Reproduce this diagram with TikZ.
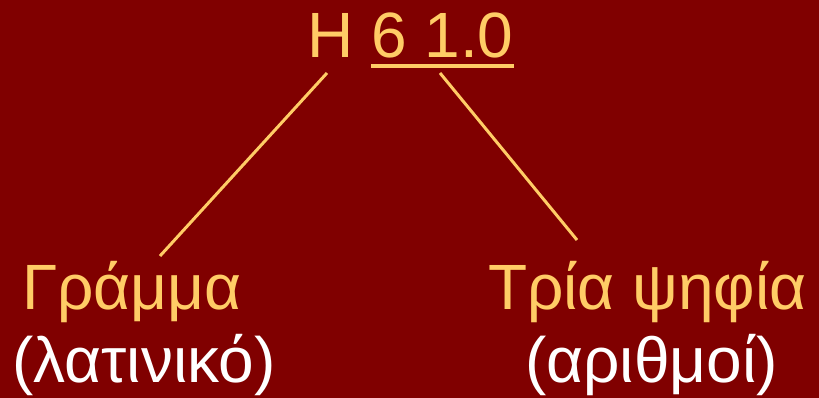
\documentclass[tikz,border=0pt]{standalone}
\usepackage{fontspec}
\setmainfont{Liberation Sans}
\definecolor{bgred}{HTML}{800000}
\definecolor{gold}{HTML}{FFCC66}
\begin{document}
\begin{tikzpicture}[x=1pt,y=1pt,
  big/.style={font=\fontsize{64}{76}\selectfont, inner sep=0pt, anchor=base west},
  link/.style={draw=gold, line width=3pt}]
\useasboundingbox[fill=bgred] (0,0) rectangle (819,398);
\node[big, text=gold] (top) at (307,340) {H {\setbox0\hbox{6 1.0}\rlap{\rule[-10pt]{\wd0}{4pt}}\box0}};
\node[big, text=gold] (gramma) at (22,88) {Γράμμα};
\node[big, text=white] (latin) at (12,15) {(λατινικό)};
\node[big, text=gold] (tria) at (488,88) {Τρία ψηφία};
\node[big, text=white] (arith) at (525,15) {(αριθμοί)};
\coordinate (a1) at (327,325);
\coordinate (a2) at (160,142);
\coordinate (b1) at (440,325);
\coordinate (b2) at (577,158);
\draw[link] (a1) -- (a2);
\draw[link] (b1) -- (b2);
\end{tikzpicture}
\end{document}
